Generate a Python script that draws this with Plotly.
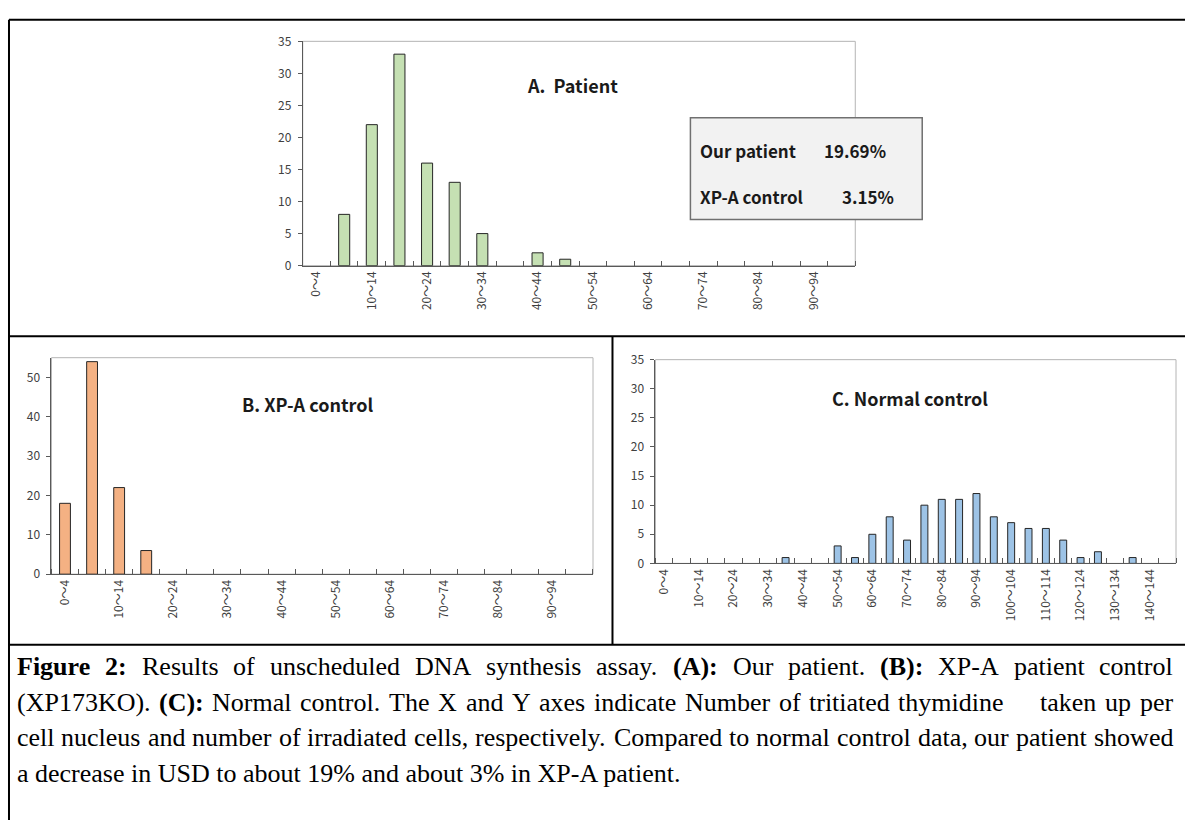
import plotly.graph_objects as go

W, H = 1185, 827

# ---------------- data ----------------
cats_ab = ["0～4", "5～9", "10～14", "15～19", "20～24", "25～29", "30～34", "35～39",
           "40～44", "45～49", "50～54", "55～59", "60～64", "65～69", "70～74", "75～79",
           "80～84", "85～89", "90～94", "95～99"]
cats_c = cats_ab + ["100～104", "105～109", "110～114", "115～119", "120～124",
                    "125～129", "130～134", "135～139", "140～144", "145～149"]

vals_a = [0, 8, 22, 33, 16, 13, 5, 0, 2, 1, 0, 0, 0, 0, 0, 0, 0, 0, 0, 0]
vals_b = [18, 54, 22, 6, 0, 0, 0, 0, 0, 0, 0, 0, 0, 0, 0, 0, 0, 0, 0, 0]
vals_c = [0, 0, 0, 0, 0, 0, 0, 1, 0, 0, 3, 1, 5, 8, 4, 10, 11, 11, 12, 8,
          7, 6, 6, 4, 1, 2, 0, 1, 0, 0]

yticks_a = [0, 5, 10, 15, 20, 25, 30, 35]
yticks_b = [0, 10, 20, 30, 40, 50]
yticks_c = [0, 5, 10, 15, 20, 25, 30, 35]

title_a = "A.  Patient"
title_b = "B. XP-A control"
title_c = "C. Normal control"
box_rows = [("Our patient", "19.69%"), ("XP-A control", "3.15%")]

cap_lines = [
    [("Figure", 1), ("2:", 1), ("Results", 0), ("of", 0), ("unscheduled", 0), ("DNA", 0),
     ("synthesis", 0), ("assay.", 0), ("(A):", 1), ("Our", 0), ("patient.", 0), ("(B):", 1),
     ("XP-A", 0), ("patient", 0), ("control", 0)],
    [("(XP173KO).", 0), ("(C):", 1), ("Normal", 0), ("control.", 0), ("The", 0), ("X", 0),
     ("and", 0), ("Y", 0), ("axes", 0), ("indicate", 0), ("Number", 0), ("of", 0),
     ("tritiated", 0), ("thymidine", 0), ("taken", 0), ("up", 0), ("per", 0)],
    [(w, 0) for w in "cell nucleus and number of irradiated cells, respectively. Compared to normal control data, our patient showed".split()],
]
cap_last = "a decrease in USD to about 19% and about 3% in XP-A patient."

# ---------------- helpers ----------------
def px(x):
    return x / W

def py(y):
    return 1 - y / H

# Times (Liberation Serif) advance widths, 1/1000 em
TR = dict(zip("abcdefghijklmnopqrstuvwxyz",
              [444, 500, 444, 500, 444, 333, 500, 500, 278, 278, 500, 278, 778, 500, 500,
               500, 500, 333, 389, 278, 500, 500, 722, 500, 500, 444]))
TR.update(dict(zip("ABCDEFGHIJKLMNOPQRSTUVWXYZ",
                   [722, 667, 667, 722, 611, 556, 722, 722, 333, 389, 722, 611, 889, 722, 722,
                    556, 722, 667, 556, 611, 722, 722, 944, 722, 722, 611])))
TR.update({d: 500 for d in "0123456789"})
TR.update({".": 250, ",": 250, ":": 278, "(": 333, ")": 333, "-": 333, "%": 833, " ": 250})
TB = dict(TR)
TB.update({"F": 611, "u": 556, "r": 444, ":": 333, "A": 722, "B": 667, "C": 722, "2": 500})

FS = 26

def tw(s, bold):
    t = TB if bold else TR
    return sum(t.get(c, 500) for c in s) / 1000.0 * FS

CAP_X0, CAP_X1 = 15, 1172
CAP_Y = [670, 707, 743, 780]
SERIF = "Liberation Serif, Times New Roman, serif"
SANS = "Noto Sans CJK JP, Noto Sans, sans-serif"

fig = go.Figure()

panels = [
    dict(vals=vals_a, cats=cats_ab, color="#c5e0b3", ax="x", ay="y", yt=yticks_a, yr=35,
         dom_x=(302, 855), dom_y=(32, 261)),
    dict(vals=vals_b, cats=cats_ab, color="#f4b183", ax="x2", ay="y2", yt=yticks_b, yr=55,
         dom_x=(50.5, 592.5), dom_y=(355, 576)),
    dict(vals=vals_c, cats=cats_c, color="#9dc3e6", ax="x3", ay="y3", yt=yticks_c, yr=35,
         dom_x=(655, 1176), dom_y=(357, 565)),
]

for i, p in enumerate(panels):
    n = len(p["cats"])
    idx = list(range(n))
    yv = [v if v else None for v in p["vals"]]  # Excel draws nothing for empty bins
    fig.add_trace(go.Bar(x=idx, y=yv, width=0.4, xaxis=p["ax"], yaxis=p["ay"],
                         marker=dict(color=p["color"], line=dict(color="#262626", width=1)),
                         hovertext=p["cats"], showlegend=False))
    sfx = "" if i == 0 else str(i + 1)
    fig.layout["xaxis" + sfx] = dict(
        domain=[px(p["dom_x"][0]), px(p["dom_x"][1])],
        anchor="y" + sfx, range=[-0.5, n - 0.5],
        tickvals=idx[::2], ticktext=p["cats"][::2], tickangle=-90,
        ticks="", showline=True, linecolor="#595959", linewidth=1,
        showgrid=False, zeroline=False,
        tickfont=dict(family=SANS, size=12, color="#404040"),
        minor=dict(tick0=-0.5, dtick=1, ticks="inside", ticklen=5,
                   tickcolor="#595959", tickwidth=1, showgrid=False),
        fixedrange=True)
    fig.layout["yaxis" + sfx] = dict(
        domain=[py(p["dom_y"][1]), py(p["dom_y"][0])],
        anchor="x" + sfx, range=[0, p["yr"]], tickvals=p["yt"],
        ticks="outside", ticklen=4, tickcolor="#595959", showline=True,
        linecolor="#595959", linewidth=1, showgrid=False, zeroline=False,
        tickfont=dict(family=SANS, size=12, color="#404040"), ticklabelstandoff=4,
        fixedrange=True)
    # plot-area border
    fig.add_shape(type="rect", xref=p["ax"] + " domain", yref=p["ay"] + " domain",
                  x0=0, x1=1, y0=0, y1=1, line=dict(color="#b4b4b4", width=1), layer="below")

# table lines
for (x0, y0, x1, y1) in [(8, 10, 1185, 10), (8, 10, 8, 827), (8, 333, 1185, 333),
                         (612, 333, 612, 648), (8, 648, 1185, 648)]:
    fig.add_shape(type="line", xref="paper", yref="paper", x0=px(x0), y0=py(y0),
                  x1=px(x1), y1=py(y1), line=dict(color="black", width=2))

# info box
fig.add_shape(type="rect", xref="paper", yref="paper", x0=px(690), x1=px(922),
              y0=py(214), y1=py(110), fillcolor="#f2f2f2",
              line=dict(color="#707070", width=1.5), layer="above")

ann = []
for (lab, val), yy, xr in zip(box_rows, [143, 190], [887, 895]):
    ann.append(dict(text="<b>%s</b>" % lab, x=px(699), y=py(yy), xref="paper", yref="paper",
                    xanchor="left", yanchor="middle", showarrow=False, borderpad=0,
                    font=dict(family=SANS, size=17, color="#1a1a1a")))
    ann.append(dict(text="<b>%s</b>" % val, x=px(xr), y=py(yy), xref="paper", yref="paper",
                    xanchor="right", yanchor="middle", showarrow=False, borderpad=0,
                    font=dict(family=SANS, size=17, color="#1a1a1a")))

for t, cx, cy in [(title_a, 572, 77), (title_b, 307, 402), (title_c, 910, 396)]:
    ann.append(dict(text="<b>%s</b>" % t, x=px(cx), y=py(cy), xref="paper", yref="paper",
                    xanchor="center", yanchor="middle", showarrow=False,
                    font=dict(family=SANS, size=18, color="#1a1a1a")))

# caption: justified lines (word-level placement)
extra_gap = {1: {13: 28}}
for li, words in enumerate(cap_lines):
    widths = [tw(w, b) for w, b in words]
    extras = extra_gap.get(li, {})
    total_extra = sum(extras.values())
    gap = (CAP_X1 - CAP_X0 - sum(widths) - total_extra) / (len(words) - 1)
    x = CAP_X0
    for k, ((w, b), wd) in enumerate(zip(words, widths)):
        txt = "<b>%s</b>" % w if b else w
        ann.append(dict(text=txt, x=px(x), y=py(CAP_Y[li]), xref="paper", yref="paper",
                        xanchor="left", yanchor="middle", showarrow=False, borderpad=0,
                        font=dict(family=SERIF, size=FS, color="black")))
        x += wd + gap + extras.get(k, 0)
ann.append(dict(text=cap_last, x=px(CAP_X0), y=py(CAP_Y[3]), xref="paper", yref="paper",
                xanchor="left", yanchor="middle", showarrow=False, borderpad=0,
                font=dict(family=SERIF, size=FS, color="black")))

fig.update_layout(width=W, height=H, margin=dict(l=0, r=0, t=0, b=0),
                  paper_bgcolor="white", plot_bgcolor="white", annotations=ann,
                  bargap=0.6, showlegend=False)

fig.write_html("out.html", config={"displayModeBar": False},
               post_script="document.body.style.margin='0';")
